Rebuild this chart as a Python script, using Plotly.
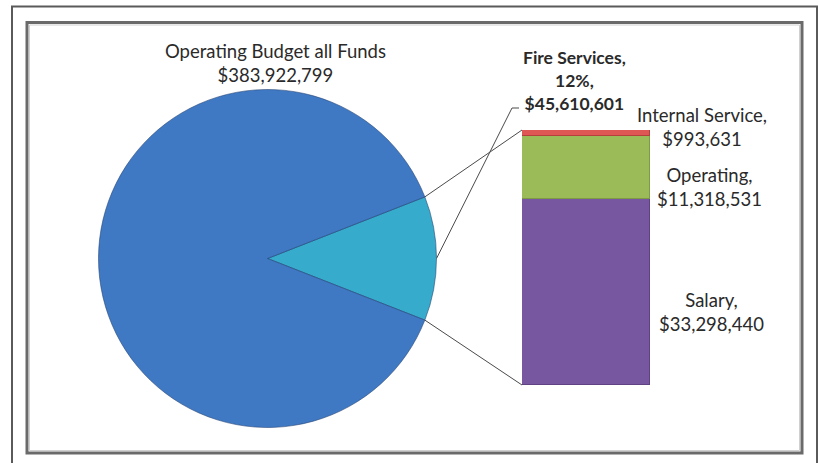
import math
import plotly.graph_objects as go

# ---- data ----
pie_labels = ["Operating Budget all Funds", "Fire Services"]
budget_total = 383922799
fire_total = 45610601

breakdown_labels = ["Salary", "Operating", "Internal Service"]
breakdown_values = [33298440, 11318531, 993631]

# ---- layout constants (pixels) ----
W, H = 819, 463
PIE_CX, PIE_CY, PIE_R = 267.5, 258.5, 169
BAR_X0, BAR_X1 = 522, 650
BAR_TOP, BAR_BOTTOM = 130, 385

FONT = "Lato"
TEXT_COLOR = "#2a2a2a"

pie_colors = ["#3f79c4", "#37abcc"]
bar_colors = ["#7857a1", "#9bbb59", "#df5754"]
bar_lines = ["#5e4282", "#7f9a44", "#b53f3c"]

fire_frac = fire_total / budget_total
other_value = budget_total - fire_total

fig = go.Figure()

# main pie: fire services slice first, centred on 3 o'clock
fig.add_trace(go.Pie(
    labels=[pie_labels[1], pie_labels[0]],
    values=[fire_total, other_value],
    sort=False,
    direction="clockwise",
    rotation=90 - 360 * fire_frac / 2,
    marker=dict(colors=[pie_colors[1], pie_colors[0]],
                line=dict(color="rgba(30,60,110,0.55)", width=1)),
    textinfo="none",
    hoverinfo="label+value+percent",
    showlegend=False,
    domain=dict(
        x=[(PIE_CX - PIE_R) / W, (PIE_CX + PIE_R) / W],
        y=[1 - (PIE_CY + PIE_R) / H, 1 - (PIE_CY - PIE_R) / H],
    ),
))

# stacked breakdown bar
for lab, val, col, lc in zip(breakdown_labels, breakdown_values, bar_colors, bar_lines):
    fig.add_trace(go.Bar(
        x=[0], y=[val], name=lab,
        marker=dict(color=col, line=dict(color=lc, width=1)),
        width=1, showlegend=False,
        hovertemplate=lab + ": $%{y:,.0f}<extra></extra>",
        xaxis="x", yaxis="y",
    ))

bar_sum = sum(breakdown_values)

# connector lines between the pie slice and the bar (pixel overlay axis)
half = math.pi * fire_frac
ux = PIE_CX + PIE_R * math.cos(half)
uy = PIE_CY - PIE_R * math.sin(half)
ly = PIE_CY + PIE_R * math.sin(half)

def px_line(xs, ys):
    fig.add_trace(go.Scatter(
        x=xs, y=ys, mode="lines", xaxis="x2", yaxis="y2",
        line=dict(color="#4a4a4a", width=1), hoverinfo="skip", showlegend=False,
    ))

px_line([ux, BAR_X0], [uy, BAR_TOP])
px_line([ux, BAR_X0], [ly, BAR_BOTTOM])
# leader for the fire services label
px_line([PIE_CX + PIE_R, 512, 519], [PIE_CY, 108, 108])

def money(v):
    return "${:,.0f}".format(v)

annotations = []

def label(x, y, text, size=18.5):
    annotations.append(dict(
        x=x, y=y, xref="x2", yref="y2", text=text, showarrow=False,
        xanchor="center", yanchor="middle", align="center",
        font=dict(family=FONT, size=size, color=TEXT_COLOR),
    ))

label(275, 63, pie_labels[0] + "<br>" + money(budget_total))
label(574, 80, "<b>{},<br>{}%,<br>{}</b>".format(
    pie_labels[1], round(fire_frac * 100), money(fire_total)), size=17.5)
bar_label_pos = {"Internal Service": (702, 127), "Operating": (709, 187), "Salary": (711, 312)}
for lab, val in zip(breakdown_labels, breakdown_values):
    x, y = bar_label_pos[lab]
    label(x, y, "{},<br>{}".format(lab, money(val)))

shapes = [
    # outer frame
    dict(type="rect", xref="x2", yref="y2", x0=12, y0=6.5, x1=817, y1=475,
         line=dict(color="#5a5a5a", width=2), layer="below"),
    # inner frame
    dict(type="rect", xref="x2", yref="y2", x0=27, y0=22.5, x1=802, y1=453,
         line=dict(color="#6a6a6a", width=3), layer="below"),
    dict(type="rect", xref="x2", yref="y2", x0=29.5, y0=25, x1=799.5, y1=450.5,
         line=dict(color="#d0d0d0", width=1), layer="below"),
]

fig.update_layout(
    width=W, height=H,
    margin=dict(l=0, r=0, t=0, b=0),
    paper_bgcolor="white", plot_bgcolor="rgba(0,0,0,0)",
    barmode="stack", bargap=0,
    xaxis=dict(domain=[BAR_X0 / W, BAR_X1 / W], range=[-0.5, 0.5], visible=False, fixedrange=True),
    yaxis=dict(domain=[1 - BAR_BOTTOM / H, 1 - BAR_TOP / H], range=[0, bar_sum], visible=False, fixedrange=True),
    xaxis2=dict(domain=[0, 1], range=[0, W], visible=False, fixedrange=True),
    yaxis2=dict(domain=[0, 1], range=[H, 0], visible=False, fixedrange=True),
    annotations=annotations,
    shapes=shapes,
)

fig.write_html("out.html")
